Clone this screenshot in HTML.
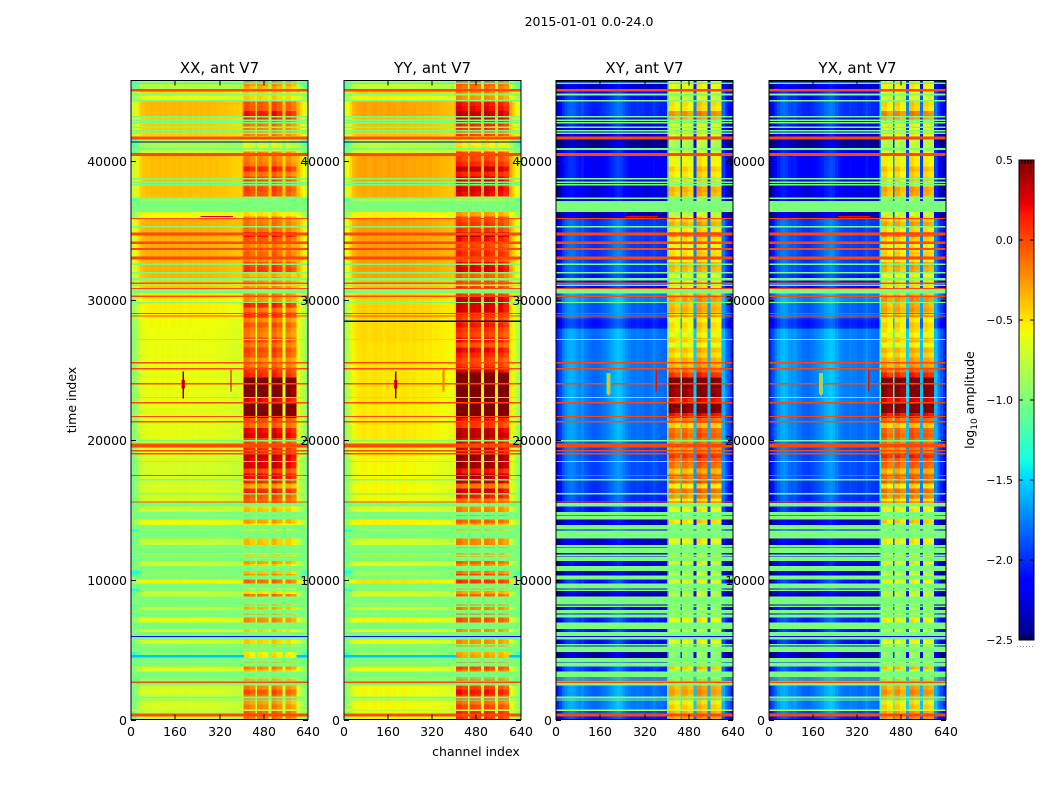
<!DOCTYPE html>
<html lang="en">
<head>
<meta charset="utf-8">
<title>2015-01-01 0.0-24.0 amplitude waterfall</title>
<style>
html,body{margin:0;padding:0;background:#fff;}
svg{display:block;font-family:"DejaVu Sans","Liberation Sans",sans-serif;fill:#000;}
</style>
</head>
<body>
<svg id="chart" xmlns="http://www.w3.org/2000/svg" width="1050" height="800" viewBox="0 0 1050 800">
  <text x="589" y="26" font-size="12.5" text-anchor="middle">2015-01-01 0.0-24.0</text>
  <text transform="translate(76,400) rotate(-90)" font-size="12.5" text-anchor="middle">time index</text>
  <text x="476" y="756" font-size="12.5" text-anchor="middle">channel index</text>
  <text transform="translate(974,400) rotate(-90)" font-size="12.5" text-anchor="middle">log<tspan font-size="9" dy="3">10</tspan><tspan dy="-3"> amplitude</tspan></text>
  <g id="panels"></g>
  <g id="colorbar"></g>
</svg>
<script>
// ---- Axis ticks ----
const xTicks = [0, 160, 320, 480, 640];
const yTicks = [0, 10000, 20000, 30000, 40000];
const cbTicks = [0.5, 0.0, -0.5, -1.0, -1.5, -2.0, -2.5];
const panelTitles = ["XX, ant V7", "YY, ant V7", "XY, ant V7", "YX, ant V7"];
const timeMax = 45725;
const valueMin = -2.5;
const valueMax = 0.5;

// ---- Channel columns ----
const channelEdges = [0,10,20,30,40,50,60,70,80,90,100,110,120,130,140,150,160,170,180,190,200,210,220,230,240,250,260,270,280,290,300,310,320,330,340,350,360,370,380,390,400,407,428,449,456,475,495,507,526,546,558,578,598,610,620,630,640];
const channelIsBand = [0,0,0,0,0,0,0,0,0,0,0,0,0,0,0,0,0,0,0,0,0,0,0,0,0,0,0,0,0,0,0,0,0,0,0,0,0,0,0,0,0,1,1,0,1,1,0,1,1,0,1,1,0,0,0,0];

// Channel profile (log10 offset from row level), one per column
const xxShape = [-.35,-.28,-.15,-.05,-.02,0,0,.02,0,.01,.02,0,.02,0,.01,.02,0,.02,.01,-.01,.01,.02,0,.02,0,.01,-.01,0,.01,-.01,0,-.01,-.02,-.01,-.02,-.03,-.04,-.05,-.05,-.06,.05,-.04,-.12,-.05,-.07,-.12,-.05,-.02,-.12,-.05,-.12,-.22,0,-.1,-.2,-.35];
const yyShape = [-.38,-.3,-.16,-.06,-.01,.01,.02,.03,.01,0,.02,.03,.01,.02,0,.02,.03,.01,.02,0,.01,.03,.02,.01,0,.02,0,-.01,.01,-.02,-.01,0,-.03,-.02,-.03,-.05,-.05,-.06,-.07,-.08,.05,.02,-.06,-.05,-.02,-.06,-.05,0,-.06,-.05,-.06,-.16,-.02,-.14,-.24,-.38];
const xyShape = [-.3,-.2,-.05,.05,.1,.12,.1,.05,0,.05,-.02,-.05,-.08,-.1,-.1,-.08,-.05,-.03,0,.05,.1,.15,.18,.15,.08,.02,-.02,-.05,-.05,-.03,-.05,-.04,-.08,-.08,-.05,0,-.05,-.08,-.08,-.1,.55,0,-.1,.35,0,-.1,.2,.1,0,.15,0,-.05,.15,-.05,-.15,-.3];
const yxShape = [-.32,-.2,-.06,.04,.1,.13,.1,.04,.01,.04,-.03,-.05,-.09,-.1,-.11,-.08,-.05,-.02,.01,.05,.11,.14,.18,.14,.07,.02,-.03,-.05,-.06,-.03,-.05,-.05,-.08,-.09,-.05,.01,-.05,-.08,-.09,-.1,.55,.02,-.1,.35,.02,-.1,.2,.08,0,.15,.02,-.05,.15,-.05,-.16,-.3];

// ---- Low-band rows: time edges and log10 level for each row ----
const rowEdges = [0,250,630,1375,2470,3450,3830,4400,4850,5400,5740,6260,6500,6930,7310,7600,8070,8265,8790,9220,9410,9745,10030,10320,10650,10980,11360,11720,11940,12320,12990,13610,13920,14330,14630,14850,15280,15610,16120,17140,18430,20000,22630,25000,27000,28000,28700,29800,30500,31500,32000,35900,36320,37370,38230,40330,40760,41540,41800,42330,43100,44240,44690,45100,45725];
const xxLow = [-.72,-.72,-.68,-.68,-.85,-.65,-.9,-.95,-.85,-.68,
  -.9,-.65,-.9,-.62,-.9,-.75,-.9,-.9,-.75,-.9,
  -.9,-.55,-.9,-.95,-.9,-.72,-.9,-.8,-.9,-.75,
  -.9,-.9,-.6,-.7,-.9,-.7,-.85,-.68,-.68,-.68,
  -.66,-.63,-.61,-.61,-.6,-.58,-.54,-.52,-.42,-.35,
  -.33,-.6,-.9,-.38,-.38,-.75,-.85,-.5,-.42,-.42,
  -.36,-.6,-.5,-.8];
const yyLow = [-.62,-.62,-.58,-.58,-.8,-.6,-.85,-.9,-.8,-.62,
  -.85,-.6,-.85,-.56,-.85,-.7,-.85,-.85,-.7,-.85,
  -.85,-.5,-.85,-.9,-.85,-.66,-.85,-.75,-.85,-.7,
  -.85,-.85,-.55,-.65,-.85,-.65,-.8,-.58,-.58,-.58,
  -.56,-.53,-.51,-.5,-.48,-.48,-.45,-.45,-.38,-.3,
  -.28,-.55,-.85,-.33,-.3,-.7,-.8,-.45,-.38,-.38,
  -.3,-.55,-.45,-.75];
const xyLow = [-2.0,-1.85,-1.72,-1.75,-2.0,-1.95,-2.1,-2.35,-2.1,-2.05,
  -2.1,-2.05,-2.1,-2.0,-2.1,-2.15,-2.3,-2.1,-2.3,-2.1,
  -2.3,-2.05,-2.1,-2.3,-2.1,-2.2,-2.2,-2.2,-2.1,-2.25,
  -2.1,-2.1,-2.25,-2.1,-2.1,-2.05,-2.1,-1.95,-1.9,-1.85,
  -1.85,-1.75,-1.72,-1.72,-1.72,-2.0,-1.8,-1.7,-2.05,-2.0,
  -1.9,-2.3,-2.2,-2.2,-2.1,-2.15,-2.4,-2.2,-2.2,-2.1,
  -1.95,-2.05,-2.1,-2.25];
const yxLow = [-2.0,-1.84,-1.7,-1.74,-2.0,-1.93,-2.1,-2.33,-2.1,-2.03,
  -2.1,-2.04,-2.1,-1.98,-2.1,-2.13,-2.3,-2.1,-2.28,-2.1,
  -2.3,-2.03,-2.1,-2.28,-2.1,-2.18,-2.2,-2.18,-2.1,-2.23,
  -2.1,-2.1,-2.23,-2.1,-2.1,-2.03,-2.1,-1.93,-1.88,-1.84,
  -1.84,-1.74,-1.7,-1.7,-1.7,-1.98,-1.78,-1.68,-2.03,-1.98,
  -1.88,-2.28,-2.18,-2.18,-2.08,-2.13,-2.38,-2.18,-2.18,-2.08,
  -1.93,-2.03,-2.08,-2.23];

// ---- High-band levels in equal time bins, from time 0 upward ----
const highBinSize = 360;
const xxHigh = [-.05,0,-.1,-.2,-.05,.05,-.1,-.15,-.3,-.3,
  -.1,-.2,-.4,-.45,-.35,-.35,-.4,-.35,-.4,-.12,
  -.15,-.3,-.25,-.3,-.05,-.4,-.4,-.02,-.15,-.3,
  -.35,-.2,-.35,-.45,-.3,-.3,-.5,-.45,-.45,-.2,
  -.25,-.3,-.35,0,.05,.2,-.2,.2,.3,.1,
  .35,.35,.4,.2,.05,.1,.35,.3,0,.1,
  .7,.8,.8,.3,.65,.6,.7,.75,.2,.15,
  -.05,-.1,.05,.1,-.05,.1,-.1,-.05,.05,-.1,
  .2,-.05,.2,-.15,-.1,-.15,-.15,-.15,-.25,.15,
  .1,-.1,0,-.05,-.1,.05,.25,-.05,-.05,-.1,
  -.4,-.9,-.9,-.9,.05,.1,-.05,.1,-.05,.2,
  -.05,-.1,-.1,-.55,-.6,-.6,-.1,-.1,-.05,.2,
  .25,.05,.05,-.35,-.35,-.25,-.15];
const yyHigh = [.1,.15,.05,-.1,.1,.2,.05,0,-.15,-.1,
  .05,-.05,-.25,-.3,-.2,-.2,-.3,-.2,-.25,0,
  0,-.15,-.15,-.1,-.05,-.25,-.25,.1,.05,-.15,
  -.2,-.05,-.2,-.3,-.15,-.15,-.35,-.3,-.3,-.05,
  -.1,-.15,-.2,-.1,.2,.3,-.1,.35,.4,.2,
  .45,.45,.5,.3,.2,.25,.4,.35,.1,.2,
  .6,.75,.75,.6,.75,.75,.75,.75,.65,.3,
  .1,.05,.15,.25,0,.2,.05,.1,.2,.05,
  .15,.3,.3,.35,.1,.1,.05,0,-.05,.3,
  .25,.05,.15,.1,.05,.2,.4,.1,.1,.05,
  -.25,-.8,-.8,-.8,.25,.3,.15,.3,.15,.35,
  .15,.05,.05,-.45,-.5,-.5,.05,.1,.15,.35,
  .35,.25,.2,-.2,-.15,-.1,-.05];
const xyHigh = [-.25,-.3,-.4,-.5,-.3,-.25,-.3,-.35,-.9,-.8,
  -.4,-.7,-.95,-.9,-.55,-.6,-.6,-.7,-.75,-.55,
  -.6,-.8,-.85,-.95,-.75,-.8,-.85,-.6,-.7,-.85,
  -.85,-.55,-.7,-.9,-.8,-.55,-.8,-.9,-.9,-.45,
  -.6,-.55,-.65,-.5,-.2,-.1,-.5,-.05,-.15,-.35,
  -.1,-.05,.1,-.2,-.25,-.15,-.05,-.1,-.4,-.1,
  .2,.5,.6,.2,.5,.45,.55,.6,.1,-.1,
  -.3,-.3,-.45,-.35,-.6,-.4,-.6,-.5,-.45,-.55,
  -.45,-.3,-.35,-.25,-.4,-.5,-.5,-.5,-.6,-.35,
  -.3,-.55,-.45,-.5,-.55,-.45,-.2,-.5,-.3,-.45,
  -.75,-.9,-.9,-.9,-.35,-.3,-.55,-.45,-.5,-.4,
  -.55,-.55,-.6,-.85,-.8,-.8,-.6,-.65,-.6,-.3,
  -.2,-.5,-.45,-.7,-.65,-.6,-.55];
const yxHigh = [-.22,-.28,-.42,-.5,-.28,-.22,-.3,-.33,-.88,-.8,
  -.38,-.68,-.93,-.9,-.52,-.6,-.58,-.7,-.75,-.52,
  -.6,-.78,-.85,-.93,-.75,-.78,-.85,-.58,-.7,-.83,
  -.85,-.52,-.7,-.88,-.8,-.52,-.8,-.88,-.9,-.42,
  -.6,-.52,-.65,-.48,-.18,-.1,-.48,-.05,-.12,-.33,
  -.08,-.05,.12,-.18,-.22,-.12,-.05,-.08,-.38,-.08,
  .2,.5,.6,.25,.5,.48,.55,.6,.12,-.08,
  -.28,-.3,-.43,-.33,-.58,-.38,-.58,-.48,-.43,-.53,
  -.43,-.28,-.33,-.23,-.38,-.48,-.5,-.48,-.58,-.33,
  -.28,-.53,-.43,-.48,-.53,-.43,-.18,-.48,-.28,-.43,
  -.73,-.9,-.9,-.9,-.33,-.28,-.53,-.43,-.48,-.38,
  -.53,-.53,-.58,-.83,-.78,-.78,-.58,-.63,-.58,-.28,
  -.18,-.48,-.43,-.68,-.63,-.58,-.53];

// ---- Flagged time ranges painted across all channels and panels ----
const flagStart = [45480,44975,44690,44240,43100,42850,42660,42330,42090,41920,
  41540,40760,40330,38650,38410,38230,37270,36320,35820,35220,
  34670,34030,33600,32950,32550,31930,31450,31190,31040,30810,
  30500,30240,29810,29020,28850,27160,25510,25080,24010,23010,
  22630,21650,21290,19930,19500,19210,19000,18430,17430,17140,
  16120,15540,15280,14630,14330,13610,12990,12320,11940,11720,
  11360,10650,10030,9410,9220,8265,8070,7600,7310,6500,
  5975,5905,5740,5310,4850,4115,3830,3020,2880,2705,
  2610,2470,1540,1375,630,250];
const flagEnd = [45570,45100,44810,44330,43190,42950,42760,42420,42190,41990,
  41700,40900,40540,38750,38480,38320,37370,37120,35890,35320,
  34840,34220,33740,33120,32640,32020,31590,31260,31115,30880,
  30810,30330,29880,29090,28920,27210,25580,25150,24080,23080,
  22720,21720,21360,20000,19740,19290,19070,18500,17500,17210,
  16190,15610,15510,14850,14560,13920,13510,12490,12270,11790,
  11650,10980,10320,9745,9320,8790,8170,7835,7500,6930,
  6260,5975,5905,5400,5210,4400,4040,3450,2950,2805,
  2705,2610,1630,1445,730,445];
const flagValue = [-1.2,0,-1,-1,-1,-1,-1,-1,-1,-1,
  0,-1,0,-1,-1,-1,-1,-1,0,-1,
  0,0,0,0,-1,-1,-1,0,-1,0,
  -1,0,-1,0,0,-1,0,0,0,-1,
  0,0,0,-1,0,0,0,-1,0,-1,
  -1,0,-1,-1,-1,-1,-1,-1,-1,-1,
  -1,-1,-1,-1,-1,-1,-1,-1,-1,-1,
  -1,-2.1,-1,-1,-1,-1,-1,-1,-1,-1,
  0,-1,-1,-1,-.75,0];

// ---- Interference features: panel index, channel range, time range, value ----
const rfiPanel = [0,0,0, 1,1,1, 2,2,2, 3,3,3, 0,2,3, 0,1,1, 0,0,1,1, 0,0,0,1,1,1];
const rfiChStart = [182,186,359, 181,185,357, 181,186,360, 181,186,360, 250,250,250, 0,0,0, 0,598,0,598, 0,0,0,0,0,0];
const rfiChEnd = [194,190,361, 193,190,363, 195,191,364, 195,191,364, 367,367,367, 640,640,640, 407,640,407,640, 30,30,30,30,30,30];
const rfiTimeStart = [23700,23000,23500, 23700,23000,23500, 23300,23200,23500, 23300,23200,23500, 35970,35970,35970, 41300,41300,28470, 4470,4470,4470,4470, 13480,10500,9220, 13480,10500,9220];
const rfiTimeEnd = [24300,24900,25000, 24300,24900,25000, 24800,24800,25000, 24800,24800,25000, 36030,36030,36030, 41370,41370,28540, 4610,4610,4610,4610, 13560,10650,9320, 13560,10650,9320];
const rfiValue = [.2,.5,.3, .2,.5,-.15, -1.3,-.35,.2, -1.3,-.35,.2, .25,.2,.2, -2.5,-2.5,-2.5, -1.55,-1.55,-1.55,-1.55, -1.35,-1.35,-1.35, -1.35,-1.35,-1.35];

const lowSeries = [xxLow, yyLow, xyLow, yxLow];
const highSeries = [xxHigh, yyHigh, xyHigh, yxHigh];
const shapeSeries = [xxShape, yyShape, xyShape, yxShape];

// ---- Helpers ----
const SVGNS = "http://www.w3.org/2000/svg";
function make(tag, attrs, parent) {
  const el = document.createElementNS(SVGNS, tag);
  for (const k in attrs) el.setAttribute(k, attrs[k]);
  parent.appendChild(el);
  return el;
}
function lerpStops(t, xs, ys) {
  for (let i = 1; i < xs.length; i++) {
    if (t <= xs[i]) return ys[i-1] + (ys[i]-ys[i-1]) * (t-xs[i-1]) / (xs[i]-xs[i-1]);
  }
  return ys[ys.length-1];
}
function jet(v) {
  const t = Math.max(0, Math.min(1, (v - valueMin) / (valueMax - valueMin)));
  const r = lerpStops(t, [0,.35,.66,.89,1], [0,0,1,1,.5]);
  const g = lerpStops(t, [0,.125,.375,.64,.91,1], [0,0,1,1,0,0]);
  const b = lerpStops(t, [0,.11,.34,.65,1], [.5,1,1,0,0]);
  return "rgb(" + Math.round(r*255) + "," + Math.round(g*255) + "," + Math.round(b*255) + ")";
}
const plotTop = 80.5, plotBottom = 719.5, plotWidth = 176.8;
function xScale(panel, ch) { return 131.25 + 212.5 * panel + ch / 640 * plotWidth; }
function yScale(t) { return plotBottom - t / timeMax * (plotBottom - plotTop); }

// ---- Panels ----
const panelsRoot = document.getElementById("panels");
panelTitles.forEach(function (title, p) {
  const g = make("g", {}, panelsRoot);
  
  
  const cells = make("g", {"shape-rendering": "crispEdges"}, g);
  
  

  const low = lowSeries[p], high = highSeries[p], shape = shapeSeries[p];
  function cell(ch0, ch1, t0, t1, value, name) {
    const x0 = xScale(p, ch0), x1 = xScale(p, ch1), y0 = yScale(t1), y1 = yScale(t0);
    const r = make("rect", {x: x0, y: y0, width: x1 - x0 + .3, height: y1 - y0 + .3, fill: jet(value)}, cells);
    
    
  }
  // low-band rows (non-band channels)
  low.forEach(function (level, row) {
    shape.forEach(function (offset, col) {
      if (!channelIsBand[col]) cell(channelEdges[col], channelEdges[col+1], rowEdges[row], rowEdges[row+1], level + offset, 'heatmap-cell');
    });
  });
  // high-band bins (band channels)
  high.forEach(function (level, bin) {
    shape.forEach(function (offset, col) {
      if (channelIsBand[col]) cell(channelEdges[col], channelEdges[col+1], bin * highBinSize, Math.min(timeMax, (bin + 1) * highBinSize), level + offset, 'heatmap-cell');
    });
  });
  // flagged rows
  flagValue.forEach(function (value, i) {
    cell(0, 640, flagStart[i], flagEnd[i], value, 'flagged-row');
  });
  // interference
  rfiValue.forEach(function (value, i) {
    if (rfiPanel[i] === p) cell(rfiChStart[i], rfiChEnd[i], rfiTimeStart[i], rfiTimeEnd[i], value, 'interference-mark');
  });

  // frame
  const left = Math.round(xScale(p, 0)), right = Math.round(xScale(p, 640));
  const frame = make("rect", {x: left, y: plotTop, width: right - left, height: plotBottom - plotTop, fill: "none", stroke: "#000", "stroke-width": 1, "shape-rendering": "crispEdges"}, g);
  
  

  // title
  const tt = make("text", {x: (left + right) / 2, y: 73, "font-size": 15, "text-anchor": "middle"}, g);
  tt.textContent = title;
  
  

  // x ticks
  xTicks.forEach(function (v) {
    const x = Math.round(xScale(p, v));
    const tick = make("path", {d: "M" + x + " " + plotBottom + "v-5M" + x + " " + plotTop + "v5", stroke: "#000", fill: "none", "shape-rendering": "crispEdges"}, g);
    
    
    const lab = make("text", {x: x, y: 736, "font-size": 12.5, "text-anchor": "middle"}, g);
    lab.textContent = String(v);
    
    
  });
  // y ticks
  yTicks.forEach(function (v) {
    const y = Math.round(yScale(v)) + .5;
    const tick = make("path", {d: "M" + left + " " + y + "h5M" + right + " " + y + "h-5", stroke: "#000", fill: "none", "shape-rendering": "crispEdges"}, g);
    
    
    const lab = make("text", {x: left - 4, y: y + 4.5, "font-size": 12.5, "text-anchor": "end"}, g);
    lab.textContent = String(v);
    
    
  });
});

// ---- Colorbar ----
const cb = document.getElementById("colorbar");
const cbLeft = 1019, cbRight = 1034, cbTop = 160, cbBottom = 640;
function cbScale(v) { return cbBottom - (v - valueMin) / (valueMax - valueMin) * (cbBottom - cbTop); }
const cbSteps = 240;
for (let i = 0; i < cbSteps; i++) {
  const v0 = valueMin + (valueMax - valueMin) * i / cbSteps;
  const v1 = valueMin + (valueMax - valueMin) * (i + 1) / cbSteps;
  const r = make("rect", {x: cbLeft, y: cbScale(v1), width: cbRight - cbLeft, height: cbScale(v0) - cbScale(v1) + .5, fill: jet((v0 + v1) / 2), "shape-rendering": "crispEdges"}, cb);
  
  
}
const cbFrame = make("rect", {x: cbLeft, y: cbTop, width: cbRight - cbLeft, height: cbBottom - cbTop, fill: "none", stroke: "#000", "shape-rendering": "crispEdges"}, cb);


cbTicks.forEach(function (v) {
  const y = Math.round(cbScale(v));
  const tick = make("path", {d: "M" + cbLeft + " " + y + "h4M" + cbRight + " " + y + "h-4", stroke: "#000", fill: "none", "shape-rendering": "crispEdges"}, cb);
  
  
  const lab = make("text", {x: 1013, y: y + 4, "font-size": 11, "text-anchor": "end"}, cb);
  lab.textContent = v.toFixed(1).replace("-", "\u2212");
  
  
});
// short end ticks along the top and bottom of the bar
for (let x = cbLeft + 3; x < cbRight; x += 3) {
  const tick = make("path", {d: "M" + x + " " + cbTop + "v4M" + x + " " + cbBottom + "v-4", stroke: "#000", fill: "none", "shape-rendering": "crispEdges"}, cb);
  
  
}
const dots = make("line", {x1: 1017, x2: 1035, y1: 646.5, y2: 646.5, stroke: "#888", "stroke-width": 1, "stroke-dasharray": "1 2", "shape-rendering": "crispEdges"}, cb);


</script>
</body>
</html>
